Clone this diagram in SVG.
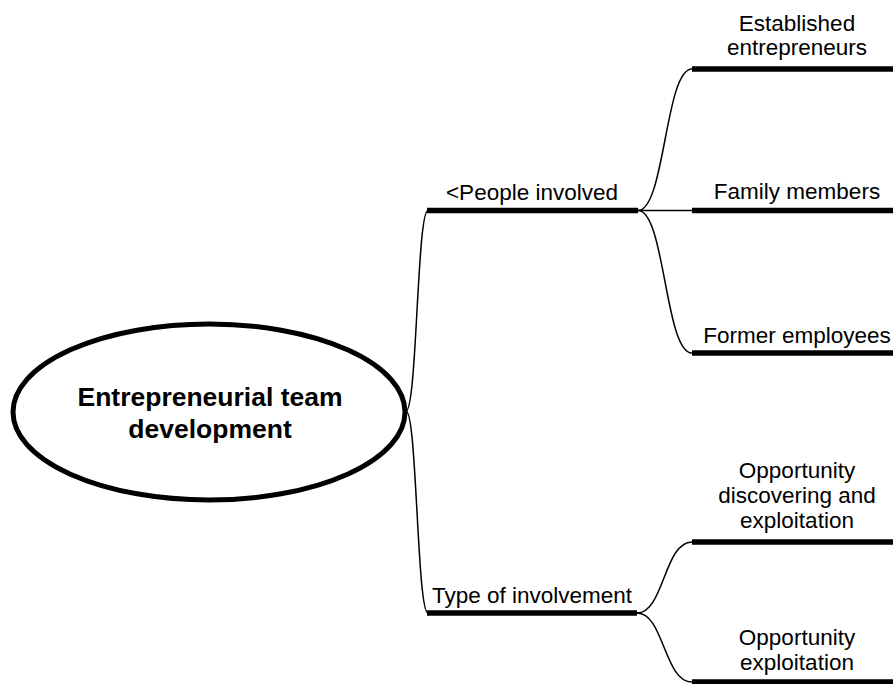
<svg xmlns="http://www.w3.org/2000/svg" width="893" height="684" viewBox="0 0 893 684">
<style>
text{font-family:"Liberation Sans",Arial,sans-serif;font-size:22.5px;fill:#000;text-anchor:middle}
.title{font-weight:bold;font-size:26.5px}
.bar{stroke:#000;stroke-width:5.5;fill:none}
.conn path{stroke:#000;stroke-width:1.5;fill:none}
</style>
<rect width="893" height="684" fill="#fff"/>
<g id="connectors" class="conn">
<path d="M406,411 C417,411 417,210.5 428,210.5"/>
<path d="M406,411 C417,411 417,613 428,613"/>
<path d="M638,210.5 C665,210.5 665,69 692,69"/>
<path d="M638,210.5 L692,210.5"/>
<path d="M638,210.5 C665,210.5 665,353 692,353"/>
<path d="M637,613 C664,613 664,542 692,542"/>
<path d="M637,613 C664,613 664,682 692,682"/>
</g>
<g id="root">
<ellipse cx="209" cy="412" rx="196" ry="88" fill="#fff" stroke="#000" stroke-width="5"/>
<text class="title" x="210" y="406">Entrepreneurial team</text>
<text class="title" x="210" y="438">development</text>
</g>
<g id="people">
<line class="bar" x1="427" y1="210.5" x2="638" y2="210.5"/>
<text x="532" y="200">&lt;People involved</text>
</g>
<g id="type">
<line class="bar" x1="427" y1="613" x2="637" y2="613"/>
<text x="532" y="603">Type of involvement</text>
</g>
<g id="established">
<line class="bar" x1="692" y1="69" x2="900" y2="69"/>
<text x="797" y="31">Established</text>
<text x="797" y="55">entrepreneurs</text>
</g>
<g id="family">
<line class="bar" x1="692" y1="210.5" x2="900" y2="210.5"/>
<text x="797" y="199">Family members</text>
</g>
<g id="former">
<line class="bar" x1="692" y1="353" x2="900" y2="353"/>
<text x="797" y="343">Former employees</text>
</g>
<g id="discovering">
<line class="bar" x1="692" y1="542" x2="900" y2="542"/>
<text x="797" y="478">Opportunity</text>
<text x="797" y="503">discovering and</text>
<text x="797" y="528">exploitation</text>
</g>
<g id="exploitation">
<line class="bar" x1="692" y1="682" x2="900" y2="682"/>
<text x="797" y="645">Opportunity</text>
<text x="797" y="670">exploitation</text>
</g>
</svg>
